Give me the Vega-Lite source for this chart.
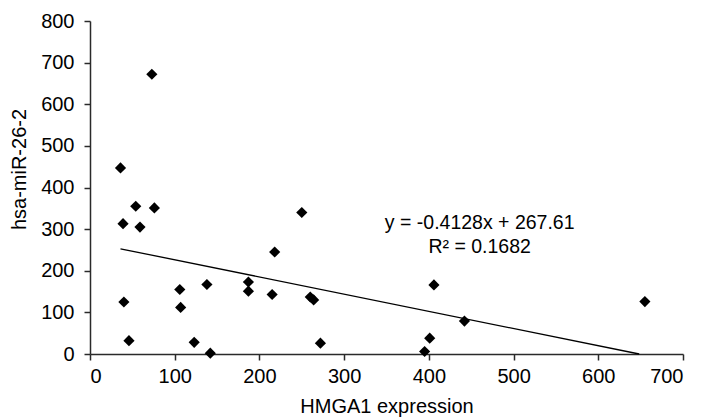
{
  "$schema": "https://vega.github.io/schema/vega-lite/v6.json",
  "width": 593,
  "height": 333,
  "autosize": {"type": "none"},
  "padding": {"left": 90, "top": 21, "right": 19, "bottom": 66},
  "background": "white",
  "config": {
    "view": {"stroke": null},
    "font": "Liberation Sans",
    "axis": {
      "grid": false,
      "domainColor": "#2a2a2a",
      "domainWidth": 1.5,
      "tickColor": "#2a2a2a",
      "tickWidth": 1.5,
      "tickSize": 6,
      "labelColor": "#000000",
      "labelFontSize": 20,
      "labelFont": "Liberation Sans",
      "titleColor": "#000000",
      "titleFontSize": 20,
      "titleFont": "Liberation Sans",
      "titleFontWeight": "normal"
    }
  },
  "datasets": {
    "points": [
      {"hmga1": 36, "mir": 447},
      {"hmga1": 39, "mir": 313},
      {"hmga1": 40, "mir": 125},
      {"hmga1": 46, "mir": 32},
      {"hmga1": 54, "mir": 355},
      {"hmga1": 59, "mir": 305},
      {"hmga1": 73, "mir": 672},
      {"hmga1": 76, "mir": 351},
      {"hmga1": 106, "mir": 155},
      {"hmga1": 107, "mir": 112},
      {"hmga1": 123, "mir": 28},
      {"hmga1": 138, "mir": 167},
      {"hmga1": 142, "mir": 2},
      {"hmga1": 187, "mir": 173},
      {"hmga1": 187, "mir": 151},
      {"hmga1": 215, "mir": 143},
      {"hmga1": 218, "mir": 245},
      {"hmga1": 250, "mir": 340},
      {"hmga1": 260, "mir": 137},
      {"hmga1": 264, "mir": 130},
      {"hmga1": 272, "mir": 26},
      {"hmga1": 395, "mir": 6},
      {"hmga1": 401, "mir": 38},
      {"hmga1": 406, "mir": 166},
      {"hmga1": 442, "mir": 79},
      {"hmga1": 655, "mir": 126}
    ],
    "trend": [
      {"hmga1": 36, "mir": 252.75},
      {"hmga1": 648.3, "mir": 0}
    ],
    "labels": [
      {"hmga1": 460, "mir": 314, "text": "y = -0.4128x + 267.61"},
      {"hmga1": 460, "mir": 257, "text": "R² = 0.1682"}
    ]
  },
  "layer": [
    {
      "data": {"name": "trend"},
      "mark": {"type": "line", "color": "#000000", "strokeWidth": 1.3},
      "encoding": {
        "x": {"field": "hmga1", "type": "quantitative", "scale": {"domain": [0, 700], "nice": false},
          "axis": {"values": [0, 100, 200, 300, 400, 500, 600, 700], "title": "HMGA1 expression", "labelPadding": 6, "titlePadding": 10}},
        "y": {"field": "mir", "type": "quantitative", "scale": {"domain": [0, 800], "nice": false},
          "axis": {"values": [0, 100, 200, 300, 400, 500, 600, 700, 800], "title": "hsa-miR-26-2", "labelPadding": 10, "titleX": -61, "titleY": 148}}
      }
    },
    {
      "data": {"name": "points"},
      "mark": {"type": "point", "shape": "diamond", "filled": true, "color": "#000000", "opacity": 1, "size": 125},
      "encoding": {
        "x": {"field": "hmga1", "type": "quantitative"},
        "y": {"field": "mir", "type": "quantitative"}
      }
    },
    {
      "data": {"name": "labels"},
      "mark": {"type": "text", "fontSize": 19.5, "font": "Liberation Sans", "color": "#000000", "align": "center", "baseline": "middle"},
      "encoding": {
        "x": {"field": "hmga1", "type": "quantitative"},
        "y": {"field": "mir", "type": "quantitative"},
        "text": {"field": "text"}
      }
    }
  ]
}
